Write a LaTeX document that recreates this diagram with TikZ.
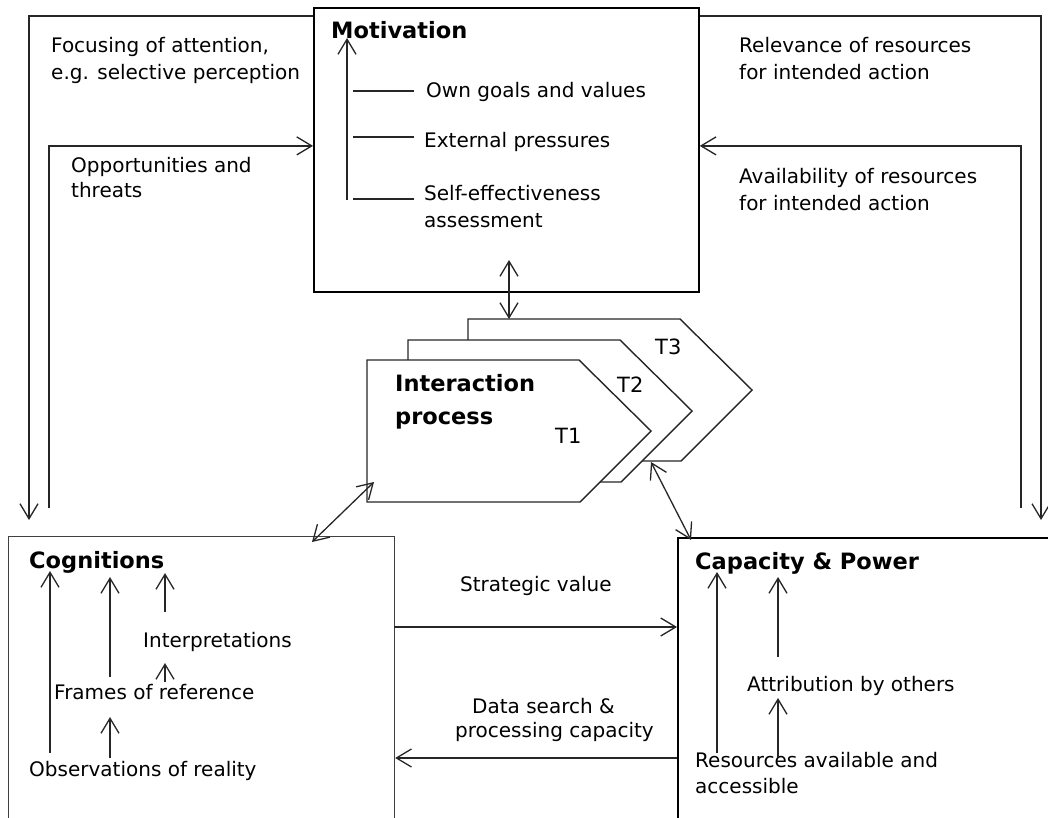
\documentclass[tikz,border=0pt]{standalone}
\usepackage{fontspec}
\setmainfont{DejaVu Sans}
\usetikzlibrary{arrows.meta}
\begin{document}
\begin{tikzpicture}[x=1pt,y=-1pt,
  conn/.style={line width=1.3pt, draw=black!85},
  tipv/.tip={Straight Barb[length=15pt,width=18pt]},
  arr/.style={conn, -tipv},
  darr/.style={conn, tipv-tipv},
  txt/.style={anchor=base west, inner sep=0pt, font=\fontsize{20}{27}\selectfont, align=left},
  head/.style={anchor=base west, inner sep=0pt, font=\fontsize{22.5}{33}\selectfont\bfseries, align=left},
  box/.style={draw, rectangle, anchor=north west, inner sep=0pt},
  ipshape/.style={draw=black!85, line width=1.4pt, fill=white, line join=miter}
]
\useasboundingbox (0,0) rectangle (1048,818);
\clip (0,0) rectangle (1048,818);

% ---- main boxes
\node[box, line width=1.8pt, minimum width=385pt, minimum height=284pt] (mot) at (313,7) {};
\node[box, line width=1.2pt, draw=black!75, minimum width=386pt, minimum height=300pt] (cog) at (8,536) {};
\node[box, line width=1.8pt, minimum width=400pt, minimum height=300pt] (cap) at (677,537) {};

% ---- interaction process, three stacked time slices
\draw[ipshape] (468,319) -- (680,319) -- (752,390) -- (681,461) -- (468,461) -- cycle;
\draw[ipshape] (408,340) -- (620,340) -- (692,411) -- (621,482) -- (408,482) -- cycle;
\draw[ipshape] (367,360) -- (579,360) -- (651,431) -- (580,502) -- (367,502) -- cycle;
\coordinate (ip3top) at (509,319);
\coordinate (ip3bot) at (651,462);
\coordinate (ip1in) at (374,482);

% multi-line nodes are placed at the baseline of their last line
\node[head] (iproc) at (395,424) {Interaction\\process};
\node[txt, font=\fontsize{21}{27}\selectfont] (t1) at (555,443) {T1};
\node[txt, font=\fontsize{21}{27}\selectfont] (t2) at (617,392) {T2};
\node[txt, font=\fontsize{21}{27}\selectfont] (t3) at (655,354) {T3};

% ---- motivation contents
\node[head] (motT) at (331,39) {Motivation};
\node[txt] (own) at (426,98) {Own goals and values};
\node[txt] (ext) at (424,148) {External pressures};
\node[txt, font=\fontsize{20}{28}\selectfont] (self) at (424,228) {Self-effectiveness\\assessment};
\coordinate (mv0) at (347,200);
\coordinate (mv1) at (347,38);
\draw[arr] (mv0) -- (mv1);
\coordinate (mo0) at (353,91);  \coordinate (mo1) at (414,91);
\coordinate (me0) at (353,137); \coordinate (me1) at (414,137);
\coordinate (ms0) at (353,199); \coordinate (ms1) at (414,199);
\draw[conn] (mo0) -- (mo1);
\draw[conn] (me0) -- (me1);
\draw[conn] (ms0) -- (ms1);

% ---- outer feedback loops
\coordinate (focusEnd) at (29,520);
\coordinate (oppStart) at (49,508);
\coordinate (relEnd) at (1041,520);
\coordinate (availStart) at (1021,508);
\draw[arr] ([yshift=-9pt]mot.north west) -| (focusEnd);
\draw[arr] (oppStart) |- ([yshift=4pt]mot.west);
\draw[arr] ([yshift=-9pt]mot.north east) -| (relEnd);
\draw[arr] (availStart) |- ([yshift=4pt]mot.east);

\node[txt] (focus) at (51,80) {Focusing of attention,\\e.g. selective perception};
\node[txt, font=\fontsize{20}{25}\selectfont] (opp) at (71,198) {Opportunities and\\threats};
\node[txt] (rel) at (739,80) {Relevance of resources\\for intended action};
\node[txt] (avail) at (739,211) {Availability of resources\\for intended action};

% ---- links with the interaction process
\coordinate (motIn) at (509,260);
\coordinate (cogIn) at (312,542);
\coordinate (capIn) at (691,540);
\draw[darr] (ip3top) -- (motIn);
\draw[darr] (cogIn) -- (ip1in);
\draw[darr] (ip3bot) -- (capIn);

% ---- cognitions <-> capacity
\coordinate (sv) at (394,627);
\coordinate (ds) at (677,758);
\draw[arr] (sv) -- (sv -| cap.west);
\draw[arr] (ds) -- (ds -| cog.east);
\node[txt] (strat) at (460,591) {Strategic value};
\node[txt, font=\fontsize{20}{24}\selectfont] (data) at (455,737) {\hspace*{17pt}Data search \&\\processing capacity};

% ---- cognitions contents
\node[head] (cogT) at (29,568) {Cognitions};
\node[txt] (interp) at (143,647) {Interpretations};
\node[txt] (frames) at (54,699) {Frames of reference};
\node[txt] (obs) at (29,776) {Observations of reality};
\coordinate (ca0) at (50,753);  \coordinate (ca1) at (50,571);
\coordinate (cb0) at (110,677); \coordinate (cb1) at (110,577);
\coordinate (cc0) at (165,612); \coordinate (cc1) at (165,573);
\coordinate (cd0) at (165,682); \coordinate (cd1) at (165,663);
\coordinate (ce0) at (110,758); \coordinate (ce1) at (110,717);
\draw[arr] (ca0) -- (ca1);
\draw[arr] (cb0) -- (cb1);
\draw[arr] (cc0) -- (cc1);
\draw[arr] (cd0) -- (cd1);
\draw[arr] (ce0) -- (ce1);

% ---- capacity & power contents
\node[head] (capT) at (695,569) {Capacity \& Power};
\node[txt] (attr) at (747,691) {Attribution by others};
\node[txt, font=\fontsize{20}{26}\selectfont] (res) at (695,793) {Resources available and\\accessible};
\coordinate (pa0) at (717,753); \coordinate (pa1) at (717,572);
\coordinate (pb0) at (778,657); \coordinate (pb1) at (778,577);
\coordinate (pc0) at (778,757); \coordinate (pc1) at (778,698);
\draw[arr] (pa0) -- (pa1);
\draw[arr] (pb0) -- (pb1);
\draw[arr] (pc0) -- (pc1);
\end{tikzpicture}
\end{document}
